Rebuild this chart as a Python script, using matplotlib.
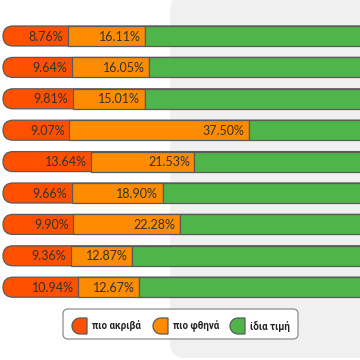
import numpy as np
import matplotlib
matplotlib.use("Agg")
import matplotlib.pyplot as plt
from matplotlib.patches import FancyBboxPatch, Rectangle, Polygon

# share of products per row (%)
more_expensive = [8.76, 9.64, 9.81, 9.07, 13.64, 9.66, 9.90, 9.36, 10.94]
cheaper = [16.11, 16.05, 15.01, 37.50, 21.53, 18.90, 22.28, 12.87, 12.67]
same_price = [100 - a - b for a, b in zip(more_expensive, cheaper)]
legend_labels = ["πιο ακριβά", "πιο φθηνά", "ίδια τιμή"]
colors = ["#ff5000", "#ff8c00", "#4fb54b"]

EDGE = "#5a5a5a"
FONT = ["Lato", "DejaVu Sans"]
PX = 4.8          # pixels per percent
ZERO = 25.6       # pixel where 0% sits (bar cap starts at 3px)
ROW = 31.4        # pixels per row
BAR_H = 20 / ROW

fig = plt.figure(figsize=(3.6, 3.6), dpi=100)
fig.patch.set_facecolor("white")

# background layer in pixel coords (grey panel + legend)
bg = fig.add_axes([0, 0, 1, 1], zorder=0)
bg.set_xlim(0, 360)
bg.set_ylim(360, 0)
bg.set_axis_off()
bg.add_patch(FancyBboxPatch((170, -4), 220, 362, boxstyle="round,pad=0,rounding_size=15",
                            facecolor="#f0f0f0", edgecolor="none"))

# bars
ax = fig.add_axes([0, 0, 1, 1], zorder=1)
ax.patch.set_alpha(0)
ax.set_xlim(-ZERO / PX, (360 - ZERO) / PX)
ax.set_ylim(324 / ROW, -36 / ROW)
ax.set_axis_off()

start = -(ZERO - 3) / PX
r = 10 / PX
aspect = (10 / ROW) / r
for i, (a, b, c) in enumerate(zip(more_expensive, cheaper, same_price)):
    y0 = i - BAR_H / 2
    ax.add_patch(FancyBboxPatch((start, y0), 100 - start, BAR_H,
                                boxstyle=f"round,pad=0,rounding_size={r}",
                                mutation_aspect=aspect, facecolor=colors[0],
                                edgecolor=EDGE, lw=0.9))
    ax.add_patch(Rectangle((a, y0), b, BAR_H, facecolor=colors[1], edgecolor=EDGE, lw=0.9))
    ax.add_patch(Rectangle((a + b, y0), c, BAR_H, facecolor=colors[2], edgecolor=EDGE, lw=0.9))
    ax.text(a - 4.5 / PX, i + 0.02, f"{a:.2f}%", ha="right", va="center",
            fontsize=9, color="#333333", family=FONT)
    ax.text(a + b - 4.5 / PX, i + 0.02, f"{b:.2f}%", ha="right", va="center",
            fontsize=9, color="#333333", family=FONT)

# legend
bg.add_patch(FancyBboxPatch((63, 309), 235, 30, boxstyle="round,pad=0,rounding_size=5",
                            facecolor="white", edgecolor="#8c8c8c", lw=0.9, zorder=2))
theta = np.linspace(np.pi / 2, 3 * np.pi / 2, 30)
for x0, lab, col in zip([73, 154, 231], legend_labels, colors):
    cx, cy, rr = x0 + 7, 326, 8
    pts = np.column_stack([cx + rr * np.cos(theta), cy - rr * np.sin(theta)])
    pts = np.vstack([pts, [[cx + 7, cy + rr], [cx + 7, cy - rr]]])
    bg.add_patch(Polygon(pts, closed=True, facecolor=col, edgecolor=EDGE, lw=0.9, zorder=3))
    bg.text(x0 + 19, 326, lab, ha="left", va="center", fontsize=7, fontweight="bold",
            color="#222222", family=["Roboto", "DejaVu Sans"], zorder=3)

fig.savefig("out.png", dpi=100)
